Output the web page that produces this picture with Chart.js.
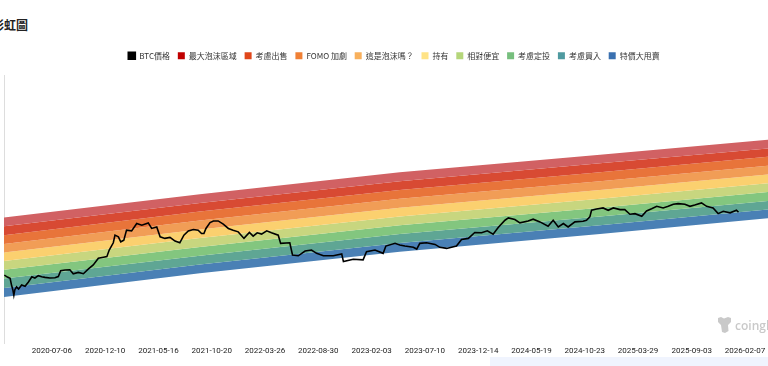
<!DOCTYPE html>
<html>
<head>
<meta charset="utf-8">
<style>
  html, body { margin: 0; width: 768px; height: 366px; overflow: hidden; background: #fff; position: relative; }
  #titulo { position: absolute; left: -44px; top: 15px; font: bold 12px "Noto Sans CJK TC", sans-serif; color: #222; white-space: nowrap; line-height: 20px; }
  #faixa { position: absolute; left: 490px; top: 357px; width: 278px; height: 9px; background: #f0f4fe; }
  #marca { position: absolute; left: 717px; top: 316px; display: flex; align-items: center; gap: 3px; color: #c9c9c9; font: 600 12px "Open Sans", sans-serif; white-space: nowrap; }
  canvas { position: absolute; left: 0; top: 0; }
</style>
</head>
<body>
<div id="titulo">比特幣彩虹圖</div>
<canvas id="grafico" width="788" height="366"></canvas>
<div id="faixa"></div>
<div id="marca">
  <svg width="15" height="18" viewBox="0 0 15 18"><path d="M1 2 L4 1 L7 2.5 L11 1 L14 2 L14 6 L11 9 L11.5 15 L8 17 L5 16 L4 9 L1 6 Z" fill="#c9c9c9"/></svg>
  <span>coinglass</span>
</div>
<script src="https://cdn.jsdelivr.net/npm/chart.js@4/dist/chart.umd.min.js"></script>
<script>
const startDate = "2020-02-16";
const tickDates = ["2020-07-06","2020-12-10","2021-05-16","2021-10-20","2022-03-26","2022-08-30","2023-02-03","2023-07-10","2023-12-14","2024-05-19","2024-10-23","2025-03-29","2025-09-03","2026-02-07"];

// dias desde startDate
const btcDays = [1,10,18,22,26,29,32,37,43,52,62,72,82,91,101,111,121,135,150,160,167,180,194,204,219,234,248,263,278,293,303,310,322,327,337,344,353,361,376,391,406,425,435,450,460,474,489,504,518,530,543,558,572,582,589,595,607,617,631,646,661,675,690,707,723,734,746,759,774,788,808,815,842,850,867,887,906,921,941,970,995,1000,1029,1058,1068,1093,1117,1125,1152,1166,1181,1206,1216,1225,1245,1270,1284,1304,1333,1348,1368,1387,1407,1424,1441,1456,1476,1486,1505,1520,1544,1559,1579,1603,1618,1633,1648,1662,1682,1706,1716,1726,1731,1746,1765,1780,1795,1815,1829,1844,1859,1879,1893,1908,1923,1942,1957,1972,1986,2006,2021,2035,2055,2070,2089,2104,2119,2139,2158,2164];
const btcPrices = [10500,9800,9400,7500,6350,5250,6350,7000,6500,7450,7150,8300,9900,9500,10300,9900,9700,9500,9600,10000,12200,12500,12600,11000,11500,11000,12900,14900,18700,19400,19800,24900,31900,41500,39200,33000,35000,49300,48100,62000,58500,63300,52300,55000,39200,37100,38400,33800,31900,41500,48100,50500,49300,44000,44000,52300,64100,67700,67700,60500,52300,49300,46500,37100,45500,40100,45000,43000,48100,45000,41500,31300,31900,21000,20400,24000,24900,22200,20400,20400,21700,16700,18100,17700,23400,24900,22200,28500,31300,29500,28500,27300,25700,31300,31900,30200,27300,26300,28500,35800,37100,45500,45000,48100,43000,54000,69400,75000,71000,63300,67700,71800,65500,56500,69400,55000,62000,55000,65500,67000,69400,77700,97700,102000,106000,97700,106000,100000,100000,85200,87000,79500,95500,103000,112000,106000,112000,120000,123000,120000,112000,117000,126000,112000,106000,87000,94400,89500,97700,91200];

const bandDays = [0,577,1166,1756,2250,2298];
const edgeMaxBubble = [76000,170000,361000,662000,1107000,1160000];
const edgeSell = [56500,126000,266000,491000,821000,861000];
const edgeFomo = [41500,93400,197000,361000,614000,644000];
const edgeIsBubble = [30500,68700,145000,266000,454000,476000];
const edgeHold = [22900,50600,107000,197000,335000,352000];
const edgeCheap = [17000,37500,79000,145000,248000,260000];
const edgeDca = [12600,27600,58500,107000,183000,192000];
const edgeBuy = [9300,20400,43000,79000,135000,142000];
const edgeFireSale = [6750,15100,31800,58300,100000,105000];
const edgeBottom = [4950,11200,23500,43000,74000,77500];

const bandNames = ["最大泡沫區域","考慮出售","FOMO 加劇","這是泡沫嗎？","持有","相對便宜","考慮定投","考慮買入","特價大甩賣"];
const legendColors = ["#c00000","#e0471b","#f08035","#f8b05c","#ffe386","#b5d67a","#77bf7e","#4f9aa0","#3a70b0"];
const bandColors = ["#d16163","#d84a33","#e8743a","#f19d56","#fbd06f","#c8d67f","#83c67f","#5fa694","#4a80b5"];
const bandEdges = [edgeMaxBubble,edgeSell,edgeFomo,edgeIsBubble,edgeHold,edgeCheap,edgeDca,edgeBuy,edgeFireSale];

const dia = d => (Date.parse(d) - Date.parse(startDate)) / 864e5;
const pares = (xs, ys) => xs.map((x, i) => ({ x: x, y: ys[i] }));
const tickDays = tickDates.map(dia);

const datasets = [{
  label: "BTC價格",
  data: pares(btcDays, btcPrices),
  borderColor: "#000",
  backgroundColor: "#000",
  borderWidth: 1.6,
  pointRadius: 0,
  fill: false
}];
bandNames.forEach((nome, i) => {
  datasets.push({
    label: nome,
    data: pares(bandDays, bandEdges[i]),
    backgroundColor: legendColors[i],
    borderColor: "transparent",
    borderWidth: 0,
    pointRadius: 0,
    fill: { target: "+1", above: bandColors[i], below: bandColors[i] }
  });
});
datasets.push({
  label: "base",
  data: pares(bandDays, edgeBottom),
  borderColor: "transparent",
  borderWidth: 0,
  pointRadius: 0,
  fill: false
});

// espaco extra abaixo da legenda
const folgaLegenda = {
  id: "folgaLegenda",
  beforeInit(chart) {
    const fit = chart.legend.fit;
    chart.legend.fit = function () {
      fit.call(this);
      this.height += 6;
    };
  }
};

new Chart(document.getElementById("grafico").getContext("2d"), {
  type: "line",
  data: { datasets: datasets },
  plugins: [folgaLegenda],
  options: {
    responsive: false,
    animation: false,
    layout: { padding: { top: 44, left: 4, right: 4, bottom: 7 } },
    plugins: {
      tooltip: { enabled: false },
      legend: {
        position: "top",
        labels: {
          boxWidth: 7,
          boxHeight: 7,
          padding: 7.8,
          color: "#333",
          font: { size: 8, family: '"Noto Sans CJK TC", sans-serif' },
          filter: item => item.text !== "base"
        }
      }
    },
    scales: {
      x: {
        type: "linear",
        min: 0,
        max: 2298,
        grid: { display: false, drawTicks: false },
        border: { display: false },
        afterBuildTicks: scale => { scale.ticks = tickDays.map(v => ({ value: v })); },
        ticks: {
          autoSkip: false,
          maxRotation: 0,
          color: "#222",
          font: { size: 8, family: "Roboto, sans-serif" },
          padding: 3,
          callback: v => tickDates[tickDays.indexOf(v)]
        }
      },
      y: {
        type: "logarithmic",
        min: 1000,
        max: 10000000,
        afterFit: scale => { scale.width = 0; },
        grid: { display: false },
        border: { color: "#ddd" },
        ticks: { display: false }
      }
    }
  }
});
</script>
</body>
</html>
